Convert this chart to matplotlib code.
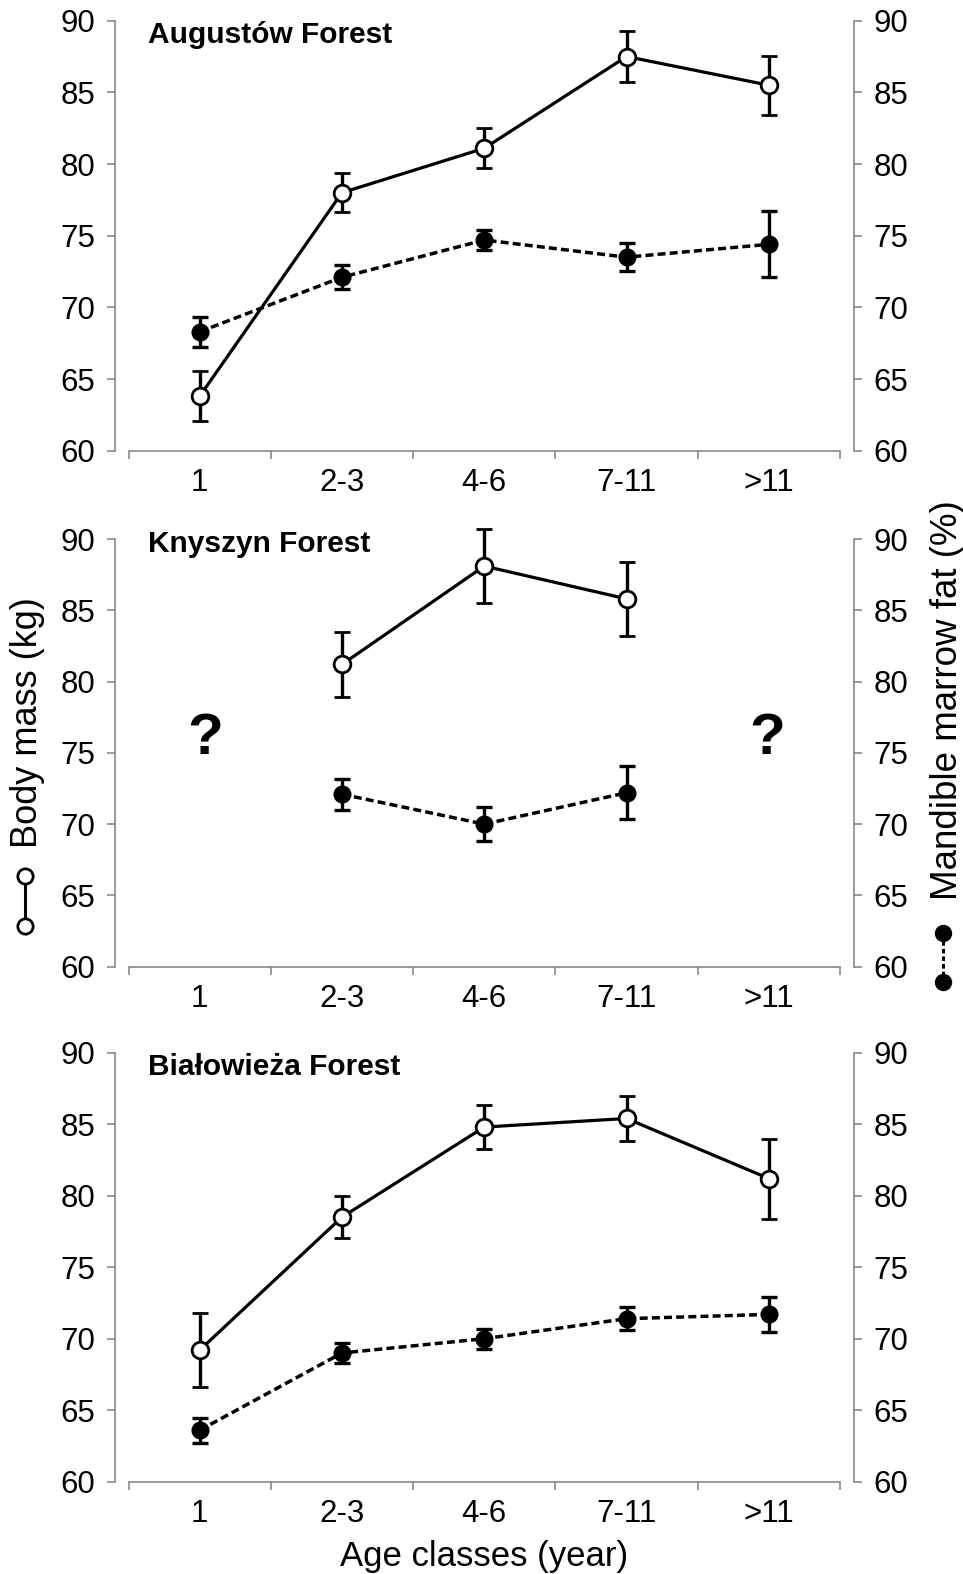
import numpy as np
import matplotlib
matplotlib.use('Agg')
import matplotlib.pyplot as plt
from matplotlib.lines import Line2D

plt.rcParams['font.family'] = ['Liberation Sans', 'DejaVu Sans']

# Age classes shared by all three forests
age_classes = ['1', '2-3', '4-6', '7-11', '>11']

# Body mass (kg): mean and error, per forest
mass_august = [63.8, 78.0, 81.1, 87.5, 85.5]
mass_august_err = [1.75, 1.35, 1.4, 1.8, 2.05]
mass_knyszyn = [np.nan, 81.2, 88.1, 85.8, np.nan]
mass_knyszyn_err = [np.nan, 2.3, 2.6, 2.6, np.nan]
mass_bialowieza = [69.2, 78.5, 84.8, 85.4, 81.2]
mass_bialowieza_err = [2.6, 1.45, 1.55, 1.55, 2.8]

# Mandible marrow fat (%): mean and error, per forest
fat_august = [68.3, 72.1, 74.7, 73.5, 74.4]
fat_august_err = [1.05, 0.85, 0.7, 0.97, 2.3]
fat_knyszyn = [np.nan, 72.1, 70.0, 72.2, np.nan]
fat_knyszyn_err = [np.nan, 1.1, 1.17, 1.85, np.nan]
fat_bialowieza = [63.6, 69.0, 70.0, 71.4, 71.7]
fat_bialowieza_err = [0.88, 0.68, 0.7, 0.79, 1.23]

panels = [
    ('Augustów Forest', mass_august, mass_august_err, fat_august, fat_august_err),
    ('Knyszyn Forest', mass_knyszyn, mass_knyszyn_err, fat_knyszyn, fat_knyszyn_err),
    ('Białowieża Forest', mass_bialowieza, mass_bialowieza_err, fat_bialowieza, fat_bialowieza_err),
]

W, H = 963, 1574
fig = plt.figure(figsize=(W / 100, H / 100), dpi=100)

# axes boxes in pixels: (top, bottom)
boxes = [(20.7, 450.7), (539.0, 966.7), (1052.7, 1481.7)]
title_y = [0.949, 0.970, 0.949]
x_left, x_right = 128.5, 840.0

grey = '#7f7f7f'
tick_fs = 22.5
x = np.arange(1, 6)

axes = []
for i, (name, mass, mass_err, fat, fat_err) in enumerate(panels):
    top, bot = boxes[i]
    ax = fig.add_axes([x_left / W, (H - bot) / H, (x_right - x_left) / W, (bot - top) / H])
    axes.append(ax)

    eb = ax.errorbar(x, fat, yerr=fat_err, fmt='o', color='black', ecolor='black',
                     markersize=12, markerfacecolor='black', markeredgecolor='black',
                     elinewidth=2.4, capsize=6, capthick=2.4, zorder=3)
    for art in eb.get_children():
        art.set_clip_on(False)
    ax.plot(x, fat, color='black', lw=2.5, dashes=(2.3, 1.2), zorder=2)

    eb = ax.errorbar(x, mass, yerr=mass_err, fmt='o', color='black', ecolor='black',
                     markersize=12, markerfacecolor='white', markeredgecolor='black',
                     markeredgewidth=2.0, elinewidth=2.4, capsize=6, capthick=2.4, zorder=4)
    for art in eb.get_children():
        art.set_clip_on(False)
    ax.plot(x, mass, color='black', lw=2.3, zorder=2)

    ax.set_xlim(0.5, 5.5)
    ax.set_ylim(60, 90)
    ax.set_yticks(np.arange(60, 91, 5))
    ax.set_xticks(x)
    ax.set_xticklabels(age_classes)
    ax.set_xticks(np.arange(0.5, 5.6, 1), minor=True)

    ax.spines['top'].set_visible(False)
    for side in ['left', 'right', 'bottom']:
        ax.spines[side].set_color(grey)
        ax.spines[side].set_linewidth(1.1)
    ax.spines['left'].set_position(('outward', 10))
    ax.spines['right'].set_position(('outward', 10))

    ax.tick_params(axis='y', which='both', left=True, right=True, labelleft=True,
                   labelright=True, direction='out', length=6, width=1.1, color=grey,
                   labelsize=tick_fs, pad=7.5)
    ax.tick_params(axis='y', which='major', right=True, pad=8)
    ax.tick_params(axis='x', which='major', length=0, labelsize=tick_fs, pad=12.5)
    ax.tick_params(axis='x', which='minor', length=6, width=1.1, color=grey,
                   direction='out')

    ax.text(0.027, title_y[i], name, transform=ax.transAxes, fontsize=21.5,
            fontweight='bold', ha='left', va='baseline')

# missing age classes in Knyszyn Forest
axes[1].text(1.04, 76.0, '?', fontsize=42, fontweight='bold', ha='center', va='center')
axes[1].text(4.99, 76.0, '?', fontsize=42, fontweight='bold', ha='center', va='center')

axes[2].set_xlabel('Age classes (year)', fontsize=25, labelpad=8)

# y-axis titles with their series symbols
fig.text(37 / W, 1 - 723 / H, 'Body mass (kg)', rotation=90, rotation_mode='anchor',
         ha='center', va='baseline', fontsize=26)
fig.text(957 / W, 1 - 700 / H, 'Mandible marrow fat (%)', rotation=90,
         rotation_mode='anchor', ha='center', va='baseline', fontsize=26.5)

fig.add_artist(Line2D([25 / W, 25 / W], [1 - 876 / H, 1 - 926 / H], color='black', lw=2.2,
                      marker='o', markersize=11, markerfacecolor='white',
                      markeredgecolor='black', markeredgewidth=2.0))
fig.add_artist(Line2D([943 / W, 943 / W], [1 - 933 / H, 1 - 982 / H], color='black', lw=2.2,
                      dashes=(1.5, 1.0), marker='o', markersize=11.5,
                      markerfacecolor='black', markeredgecolor='black'))

fig.savefig('out.png', dpi=100)
